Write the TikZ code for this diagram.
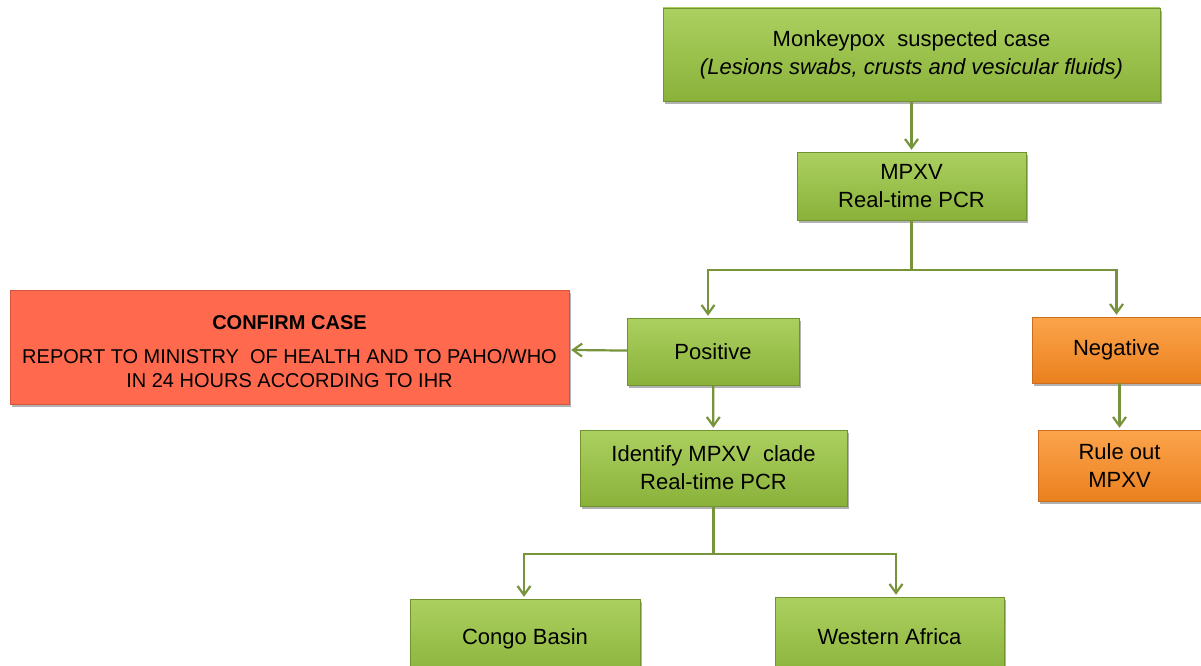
\documentclass[tikz,border=0pt]{standalone}
\usepackage{fontspec}
\setmainfont{Liberation Sans}
\usetikzlibrary{arrows.meta,shadows}

\definecolor{linegreen}{RGB}{119,147,60}
\definecolor{greentop}{RGB}{172,208,96}
\definecolor{greenbot}{RGB}{138,178,58}
\definecolor{greenedge}{RGB}{112,146,48}
\definecolor{orangetop}{RGB}{252,164,76}
\definecolor{orangebot}{RGB}{234,128,30}
\definecolor{orangeedge}{RGB}{200,110,30}
\definecolor{redfill}{RGB}{255,106,78}
\definecolor{rededge}{RGB}{214,84,60}

\tikzset{
  box/.style={inner sep=0pt, align=center, text=black,
    drop shadow={shadow xshift=2pt, shadow yshift=-3pt, opacity=0.3, fill=black},
    font=\fontsize{22}{28}\selectfont},
  greenbox/.style={box, draw=greenedge, top color=greentop, bottom color=greenbot},
  orangebox/.style={box, draw=orangeedge, top color=orangetop, bottom color=orangebot},
  redbox/.style={box, draw=rededge, fill=redfill},
  redtext/.style={align=center, inner sep=0pt, font=\fontsize{20}{24}\selectfont},
  flow/.style={draw=linegreen, line width=2.2pt, shorten >=2pt,
    -{Straight Barb[length=9pt,width=13pt,line width=2.2pt]}},
  link/.style={draw=linegreen, line width=2.2pt}
}

\begin{document}
\begin{tikzpicture}[x=1pt,y=-1pt]
  \useasboundingbox (0,0) rectangle (1201,666);

  % boxes
  \node[greenbox, minimum width=497pt, minimum height=93pt] (suspect) at (911.5,54.5)
    {Monkeypox\ \ suspected case\\\textit{(Lesions swabs, crusts and vesicular fluids)}};
  \node[greenbox, minimum width=229pt, minimum height=68pt] (pcr) at (911.5,186)
    {MPXV\\Real-time PCR};
  \node[greenbox, minimum width=172pt, minimum height=67pt] (positive) at (713,351.5)
    {Positive};
  \node[orangebox, minimum width=169pt, minimum height=66pt] (negative) at (1116.5,350)
    {Negative};
  \node[orangebox, minimum width=163pt, minimum height=71pt] (ruleout) at (1119.5,465.5)
    {Rule out\\MPXV};
  \node[redbox, minimum width=559pt, minimum height=114pt] (confirm) at (289.5,347) {};
  \node[redtext] (confirmtext) at ([yshift=-5pt]confirm.center)
    {\textbf{CONFIRM CASE}\\[10pt]
     REPORT TO MINISTRY\ \ OF HEALTH AND TO PAHO/WHO\\
     IN 24 HOURS ACCORDING TO IHR};
  \node[greenbox, minimum width=267pt, minimum height=76pt] (clade) at (713.5,468)
    {Identify MPXV\ \ clade\\Real-time PCR};
  \node[greenbox, minimum width=230pt, minimum height=80pt] (congo) at (525,639)
    {Congo Basin};
  \node[greenbox, minimum width=229pt, minimum height=80pt] (western) at (889.5,637)
    {Western Africa};

  % connectors
  \coordinate (split) at (911.5,270);
  \coordinate (cladesplit) at (713.5,554);
  \draw[flow] (suspect) -- (pcr);
  \draw[link] (pcr) -- (split);
  \draw[flow] (split) -| ([xshift=-5pt]positive.north);
  \draw[flow] (split) -| (negative.north);
  \draw[flow] (positive) -- (confirm);
  \draw[flow] (positive) -- (clade);
  \draw[flow] (negative.south -| ruleout) -- (ruleout);
  \draw[link] (clade) -- (cladesplit);
  \draw[flow] (cladesplit) -| ([xshift=-1pt]congo.north);
  \draw[flow] (cladesplit) -| ([xshift=6.5pt]western.north);
\end{tikzpicture}
\end{document}
